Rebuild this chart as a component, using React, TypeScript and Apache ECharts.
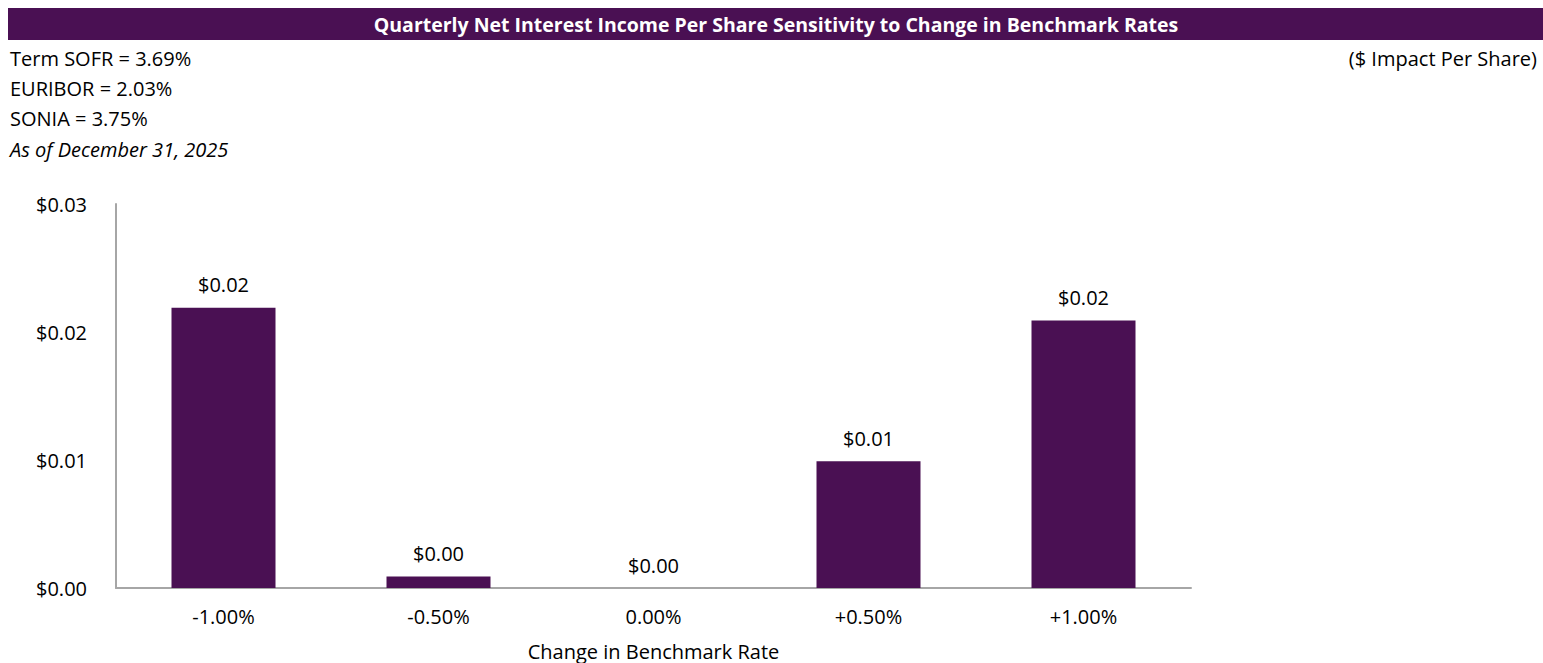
import React, { useEffect, useRef } from "react";
import * as echarts from "echarts";

const categories = ["-1.00%", "-0.50%", "0.00%", "+0.50%", "+1.00%"];
const values = [0.0219, 0.0009, 0.0, 0.0099, 0.0209];
const yTicks = { min: 0, max: 0.03, interval: 0.01 };
const titleText = "Quarterly Net Interest Income Per Share Sensitivity to Change in Benchmark Rates";
const infoLines = ["Term SOFR = 3.69%", "EURIBOR = 2.03%", "SONIA = 3.75%"];
const asOfText = "As of December 31, 2025";
const unitText = "($ Impact Per Share)";
const xAxisName = "Change in Benchmark Rate";

const PURPLE = "#4A1053";
const FONT = "'Open Sans', 'Noto Sans', sans-serif";

export default function App() {
  const ref = useRef<HTMLDivElement>(null);
  useEffect(() => {
    if (!ref.current) return;
    const chart = echarts.init(ref.current, undefined, { renderer: "svg", width: 1543, height: 663 });
    const fmt = (v: number) => "$" + v.toFixed(2);
    chart.setOption({
      animation: false,
      backgroundColor: "#ffffff",
      textStyle: { fontFamily: FONT },
      grid: { left: 116, right: 352, top: 204, bottom: 75, containLabel: false, outerBoundsMode: "none" },
      graphic: [
        { type: "rect", left: 8, top: 8, shape: { width: 1535, height: 32 }, style: { fill: PURPLE }, z: 0 },
        {
          type: "text", x: 776, y: 24,
          style: { text: titleText, fill: "#fff", font: `bold 19.5px ${FONT}`, align: "center", verticalAlign: "middle" },
        },
        ...infoLines.map((t, i) => ({
          type: "text", x: 10, y: 58 + i * 30.3,
          style: { text: t, fill: "#000", font: `20px ${FONT}`, align: "left", verticalAlign: "middle" },
        })),
        {
          type: "text", x: 10, y: 149,
          style: { text: asOfText, fill: "#000", font: `italic 20px ${FONT}`, align: "left", verticalAlign: "middle" },
        },
        {
          type: "text", x: 1537, y: 58,
          style: { text: unitText, fill: "#000", font: `20px ${FONT}`, align: "right", verticalAlign: "middle" },
        },
      ],
      xAxis: {
        type: "category",
        data: categories,
        name: xAxisName,
        nameLocation: "middle",
        nameGap: 53,
        nameTextStyle: { fontSize: 20, color: "#000", fontFamily: FONT },
        axisLine: { lineStyle: { color: "#A6A6A6", width: 2 } },
        axisTick: { show: false },
        axisLabel: { fontSize: 20, color: "#000", margin: 18, fontFamily: FONT },
      },
      yAxis: {
        type: "value",
        min: yTicks.min,
        max: yTicks.max,
        interval: yTicks.interval,
        axisLine: { show: true, lineStyle: { color: "#A6A6A6", width: 2 } },
        axisTick: { show: false },
        splitLine: { show: false },
        axisLabel: { fontSize: 20, color: "#000", margin: 29, formatter: fmt, fontFamily: FONT },
      },
      series: [
        {
          type: "bar",
          data: values,
          barWidth: 104,
          itemStyle: { color: PURPLE },
          label: {
            show: true,
            position: "top",
            distance: 13,
            fontSize: 20,
            color: "#000",
            fontFamily: FONT,
            formatter: (p: any) => fmt(p.value),
          },
        },
      ],
    });
    return () => chart.dispose();
  }, []);
  return (
    <div
      ref={ref}
      style={{ position: "absolute", left: 0, top: 0, width: 1543, height: 663, background: "#fff" }}
    />
  );
}
